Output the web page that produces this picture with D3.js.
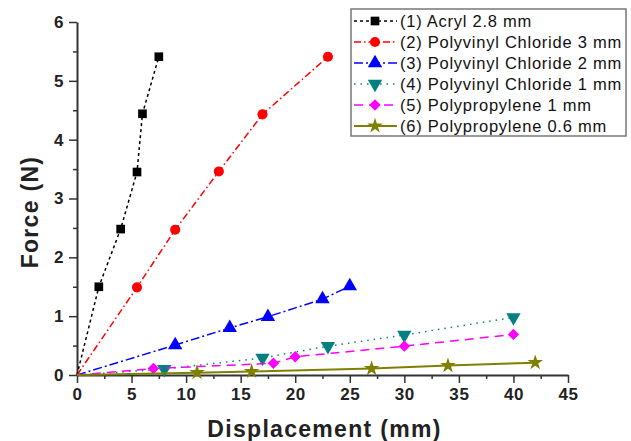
<!DOCTYPE html>
<html>
<head>
<meta charset="utf-8">
<script src="https://cdn.jsdelivr.net/npm/d3@7"></script>
<style>
  body { margin: 0; background: #fff; }
  text { font-family: Arial, "Liberation Sans", sans-serif; }
</style>
</head>
<body>
<div id="chart"></div>
<script>
// data (displacement mm, force N)
var names = ["(1) Acryl 2.8 mm", "(2) Polyvinyl Chloride 3 mm", "(3) Polyvinyl Chloride 2 mm",
             "(4) Polyvinyl Chloride 1 mm", "(5) Polypropylene 1 mm", "(6) Polypropylene 0.6 mm"]
var acrylX = [0, 2, 4, 5.5, 6, 7.5]
var acrylY = [0, 1.5, 2.48, 3.45, 4.44, 5.41]
var pvc3X = [0, 5.5, 9, 13, 17, 23]
var pvc3Y = [0, 1.49, 2.47, 3.46, 4.43, 5.41]
var pvc2X = [0, 9, 14, 17.5, 22.5, 25]
var pvc2Y = [0, 0.51, 0.8, 0.99, 1.29, 1.51]
var pvc1X = [0, 8, 17, 23, 30, 40]
var pvc1Y = [0, 0.1, 0.29, 0.49, 0.68, 0.98]
var pp1X = [0, 7, 18, 20, 30, 40]
var pp1Y = [0, 0.11, 0.2, 0.31, 0.49, 0.69]
var pp06X = [0, 11, 16, 27, 34, 42]
var pp06Y = [0, 0.04, 0.06, 0.11, 0.16, 0.21]
var xTicks = [0, 5, 10, 15, 20, 25, 30, 35, 40, 45]
var yTicks = [0, 1, 2, 3, 4, 5, 6]

var colors = ["#000000", "#ff0000", "#0000ff", "#008080", "#ff00ff", "#808000"]
var dashes = ["3,3", "7,3,1.5,3", "9,3,2,3", "1.5,5", "9,6", null]
var symbols = [d3.symbolSquare, d3.symbolCircle, d3.symbolTriangle, d3.symbolTriangle, d3.symbolSquare, d3.symbolStar]
var rotations = [0, 0, 0, 180, 45, 0]
var sizes = [75, 80, 90, 90, 65, 75]

var xs = [acrylX, pvc3X, pvc2X, pvc1X, pp1X, pp06X]
var ys = [acrylY, pvc3Y, pvc2Y, pvc1Y, pp1Y, pp06Y]
var series = names.map(function(n, i) {
  return { name: n, i: i, pts: xs[i].map(function(v, j) { return [v, ys[i][j]] }) }
})

var width = 631
var height = 441
var margin = {top: 22, right: 63, bottom: 66, left: 77}

var svg = d3.select("#chart").append("svg")
  .attr("width", width)
  .attr("height", height)

var x = d3.scaleLinear().domain([0, 45]).range([margin.left, width - margin.right])
var y = d3.scaleLinear().domain([0, 6]).range([height - margin.bottom, margin.top])

// minor ticks
svg.append("g")
  .attr("transform", "translate(0," + y(0) + ")")
  .call(d3.axisBottom(x).tickValues(d3.range(2.5, 45, 5)).tickSize(4).tickFormat(""))
  .call(function(g) { g.select(".domain").remove() })
svg.append("g")
  .attr("transform", "translate(" + x(0) + ",0)")
  .call(d3.axisLeft(y).tickValues(d3.range(0.5, 6, 1)).tickSize(4).tickFormat(""))
  .call(function(g) { g.select(".domain").remove() })

var xAxis = svg.append("g")
  .attr("transform", "translate(0," + y(0) + ")")
  .call(d3.axisBottom(x).tickValues(xTicks).tickFormat(d3.format("d")).tickSize(8).tickSizeOuter(0).tickPadding(5))
var yAxis = svg.append("g")
  .attr("transform", "translate(" + x(0) + ",0)")
  .call(d3.axisLeft(y).tickValues(yTicks).tickFormat(d3.format("d")).tickSize(8).tickSizeOuter(0).tickPadding(5))

svg.selectAll(".tick line").attr("stroke", "#333").attr("stroke-width", 1.5)
svg.selectAll(".domain").attr("stroke", "#333").attr("stroke-width", 2)
svg.selectAll(".tick text")
  .style("font-size", "17px").style("font-weight", "bold").style("letter-spacing", "0.6px")
  .style("font-family", "Arial, 'Liberation Sans', sans-serif").attr("fill", "#222")

svg.append("text")
  .attr("x", (x(0) + x(45)) / 2 + 2)
  .attr("y", 437)
  .attr("text-anchor", "middle")
  .style("font-size", "23px").style("font-weight", "bold").style("letter-spacing", "1.3px")
  .attr("fill", "#222")
  .text("Displacement (mm)")

svg.append("text")
  .attr("transform", "translate(38,212) rotate(-90)")
  .attr("text-anchor", "middle")
  .style("font-size", "23px").style("font-weight", "bold").style("letter-spacing", "1.3px")
  .attr("fill", "#222")
  .text("Force (N)")

var line = d3.line().x(function(d) { return x(d[0]) }).y(function(d) { return y(d[1]) })

var g = svg.selectAll(".series").data(series).enter().append("g")

g.append("path")
  .attr("d", function(d) { return line(d.pts) })
  .attr("fill", "none")
  .attr("stroke", function(d) { return colors[d.i] })
  .attr("stroke-width", function(d) { return d.i == 5 ? 2 : 1.5 })
  .attr("stroke-dasharray", function(d) { return dashes[d.i] })

g.selectAll(".pt")
  .data(function(d) { return d.pts.slice(1).map(function(p) { return {p: p, i: d.i} }) })
  .enter().append("path")
  .attr("d", function(d) { return d3.symbol().type(symbols[d.i]).size(sizes[d.i])() })
  .attr("transform", function(d) { return "translate(" + x(d.p[0]) + "," + y(d.p[1]) + ") rotate(" + rotations[d.i] + ")" })
  .attr("fill", function(d) { return colors[d.i] })

// legend
var legend = svg.append("g").attr("transform", "translate(351,9)")
legend.append("rect")
  .attr("width", 275).attr("height", 127)
  .attr("fill", "#fff").attr("stroke", "#777").attr("stroke-width", 1.5)

var item = legend.selectAll(".item").data(series).enter().append("g")
  .attr("transform", function(d, i) { return "translate(0," + (12 + i * 21) + ")" })

item.append("line")
  .attr("x1", 3).attr("x2", 46)
  .attr("stroke", function(d) { return colors[d.i] })
  .attr("stroke-width", function(d) { return d.i == 5 ? 2 : 1.5 })
  .attr("stroke-dasharray", function(d) { return dashes[d.i] })
item.append("path")
  .attr("d", function(d) { return d3.symbol().type(symbols[d.i]).size(sizes[d.i])() })
  .attr("transform", function(d) { return "translate(24,0) rotate(" + rotations[d.i] + ")" })
  .attr("fill", function(d) { return colors[d.i] })
item.append("text")
  .attr("x", 49).attr("dy", "0.36em")
  .style("font-size", "16.5px").style("letter-spacing", "0.75px").attr("fill", "#111")
  .text(function(d) { return d.name })
</script>
</body>
</html>
